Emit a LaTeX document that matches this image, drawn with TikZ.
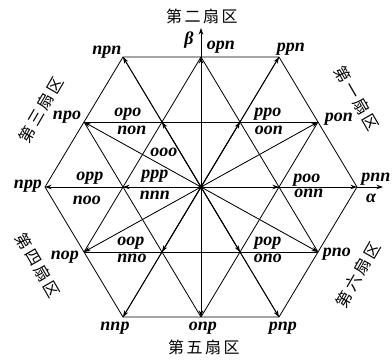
\documentclass[tikz,border=0pt]{standalone}
\usepackage{fontspec}
\setmainfont{Liberation Serif}
\newfontfamily\labfont{Liberation Serif}
\newfontfamily\cjk{Noto Sans CJK SC}
\usetikzlibrary{arrows.meta}
\newcommand{\sectxt}[4]{#1\hspace{2.5pt}#2\hspace{2.5pt}#3\hspace{2.5pt}#4}
\begin{document}
\begin{tikzpicture}[x=1pt,y=1pt,
  ln/.style={line width=0.85pt},
  vec/.style={line width=0.85pt,-{Stealth[length=6.5pt,width=4.5pt]}},
  lab/.style={font=\labfont\fontsize{18}{20}\selectfont\bfseries\itshape, anchor=base, inner sep=0pt},
  sec/.style={font=\cjk\fontsize{16}{18}\selectfont, inner sep=0pt},
  dot/.style={circle,fill,inner sep=0pt,minimum size=5pt}]
\useasboundingbox (-201,-175) rectangle (191,187);
% vector end points
\coordinate (O) at (0,0);
\coordinate (poo) at (78,0);   \coordinate (ppo) at (39,65);   \coordinate (opo) at (-39,65);
\coordinate (opp) at (-78,0);  \coordinate (oop) at (-39,-65); \coordinate (pop) at (39,-65);
\coordinate (pnn) at (156,0);  \coordinate (ppn) at (78,130);  \coordinate (npn) at (-78,130);
\coordinate (npp) at (-156,0); \coordinate (nnp) at (-78,-130);\coordinate (pnp) at (78,-130);
\coordinate (pon) at (117,65); \coordinate (opn) at (0,130);   \coordinate (npo) at (-117,65);
\coordinate (nop) at (-117,-65);\coordinate (onp) at (0,-130); \coordinate (pno) at (117,-65);
\coordinate (aend) at (182,0); \coordinate (bend) at (0,159);
% grid
\draw[ln] (pnn) -- (ppn) -- (npn) -- (npp) -- (nnp) -- (pnp) -- cycle;
\draw[ln] (npo) -- (pon);
\draw[ln] (nop) -- (pno);
\draw[ln] (nop) -- (opn);
\draw[ln] (nnp) -- (ppn);
\draw[ln] (onp) -- (pon);
\draw[ln] (onp) -- (npo);
\draw[ln] (pnp) -- (npn);
\draw[ln] (opn) -- (pno);
% vectors
\foreach \v in {poo,ppo,opo,opp,oop,pop,pnn,ppn,npn,npp,nnp,pnp,pon,opn,npo,nop,onp,pno}
  \draw[vec] (O) -- (\v);
\draw[vec] (pnn) -- (aend);
\draw[vec] (opn) -- (bend);
\node[dot] (Odot) at (O) {};
% state labels
\node[lab] (l-npn) at (-94,132) {npn};
\node[lab] (l-opn) at (20,137) {opn};
\node[lab] (l-ppn) at (90,135) {ppn};
\node[lab] (l-pon) at (138,65) {pon};
\node[lab] (l-pnn) at (175,5) {pnn};
\node[lab] (l-npo) at (-134,67) {npo};
\node[lab] (l-npp) at (-173,-2) {npp};
\node[lab] (l-opo) at (-73,70) {opo};
\node[lab] (l-non) at (-69,52) {non};
\node[lab] (l-ppo) at (67,70) {ppo};
\node[lab] (l-oon) at (68,52) {oon};
\node[lab] (l-ooo) at (-37,30) {ooo};
\node[lab] (l-ppp) at (-46,8) {ppp};
\node[lab] (l-nnn) at (-46,-13) {nnn};
\node[lab] (l-opp) at (-111,6) {opp};
\node[lab] (l-noo) at (-114,-18) {noo};
\node[lab] (l-poo) at (106,4) {poo};
\node[lab] (l-onn) at (108,-11) {onn};
\node[lab] (l-oop) at (-70,-59) {oop};
\node[lab] (l-nno) at (-69,-76) {nno};
\node[lab] (l-pop) at (67,-59) {pop};
\node[lab] (l-ono) at (67,-76) {ono};
\node[lab] (l-nop) at (-136,-73) {nop};
\node[lab] (l-pno) at (136,-70) {pno};
\node[lab] (l-nnp) at (-86,-143) {nnp};
\node[lab] (l-onp) at (2,-144) {onp};
\node[lab] (l-pnp) at (82,-144) {pnp};
\node[lab,anchor=center] (l-alpha) at (170,-11) {α};
\node[lab,anchor=center] (l-beta) at (-12,147) {β};
% sectors
\node[sec] (s2) at (1,171) {\sectxt{第}{二}{扇}{区}};
\node[sec] (s5) at (3,-160) {\sectxt{第}{五}{扇}{区}};
\node[sec,rotate=-60] (s1) at (156,89) {\sectxt{第}{一}{扇}{区}};
\node[sec,rotate=60] (s3) at (-160,77) {\sectxt{第}{三}{扇}{区}};
\node[sec,rotate=-60] (s4) at (-163,-78) {\sectxt{第}{四}{扇}{区}};
\node[sec,rotate=60] (s6) at (157,-88) {\sectxt{第}{六}{扇}{区}};
\end{tikzpicture}
\end{document}
